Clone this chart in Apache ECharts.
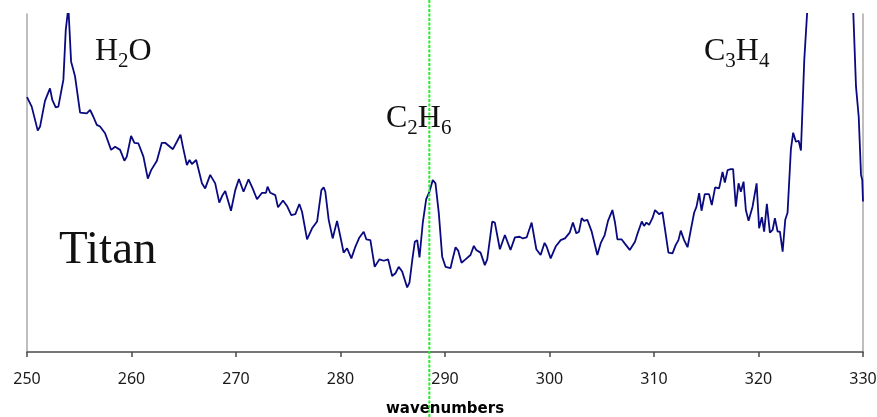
<!DOCTYPE html>
<html>
<head>
<meta charset="utf-8">
<script src="https://cdn.jsdelivr.net/npm/echarts@6/dist/echarts.min.js"></script>
<style>
  html, body { margin: 0; padding: 0; background: #fff; }
  #chart { width: 877px; height: 417px; }
</style>
</head>
<body>
<div id="chart"></div>
<script>
// Titan spectrum, 250–330 cm-1 (relative intensity, arbitrary units)
const wavenumbers = [
  250.00, 250.45, 251.03, 251.25, 251.72, 252.20, 252.42, 252.75, 253.00, 253.48,
  253.71, 253.96, 254.22, 254.44, 254.60, 255.08, 255.72, 256.04, 256.35, 256.68,
  256.99, 257.47, 258.05, 258.43, 258.91, 259.32, 259.55, 259.96, 260.28, 260.66,
  261.14, 261.56, 261.88, 262.43, 262.90, 263.22, 263.96, 264.34, 264.69, 264.92,
  265.30, 265.55, 265.78, 266.19, 266.74, 267.05, 267.53, 268.01, 268.40, 268.71,
  268.97, 269.52, 269.93, 270.28, 270.72, 271.20, 271.59, 272.01, 272.49, 272.87,
  273.02, 273.28, 273.76, 274.02, 274.50, 274.88, 275.29, 275.68, 276.06, 276.32,
  276.80, 277.28, 277.76, 278.17, 278.39, 278.55, 278.87, 279.25, 279.67, 279.99,
  280.30, 280.63, 281.04, 281.43, 281.81, 282.22, 282.48, 282.86, 283.27, 283.72,
  284.14, 284.56, 284.94, 285.26, 285.57, 285.90, 286.38, 286.60, 286.86, 287.11,
  287.34, 287.56, 287.87, 288.20, 288.51, 288.83, 289.09, 289.41, 289.73, 290.05,
  290.53, 290.69, 291.01, 291.26, 291.58, 291.96, 292.44, 292.76, 292.99, 293.40,
  293.81, 294.04, 294.52, 294.77, 295.25, 295.73, 296.27, 296.69, 297.14, 297.45,
  297.81, 298.29, 298.74, 299.15, 299.53, 299.72, 300.11, 300.59, 301.07, 301.48,
  301.93, 302.24, 302.57, 302.82, 303.08, 303.30, 303.62, 304.04, 304.58, 304.90,
  305.28, 305.60, 306.02, 306.27, 306.50, 306.91, 307.23, 307.68, 308.18, 308.41,
  308.83, 309.05, 309.28, 309.53, 309.85, 310.10, 310.48, 310.81, 311.06, 311.38,
  311.77, 312.08, 312.34, 312.56, 312.88, 313.21, 313.52, 313.84, 314.07, 314.32,
  314.55, 314.86, 315.27, 315.53, 315.85, 316.23, 316.56, 316.78, 317.04, 317.35,
  317.57, 317.83, 318.09, 318.31, 318.57, 318.79, 319.05, 319.43, 319.82, 320.06,
  320.32, 320.54, 320.80, 321.09, 321.35, 321.57, 321.83, 322.05, 322.31, 322.56,
  322.78, 323.10, 323.32, 323.58, 323.84, 324.06, 324.38, 325.00, 326.50, 327.80,
  328.60, 329.07, 329.33, 329.59, 329.81, 329.93, 330.00
];

const intensity = [
  75.4, 72.6, 65.5, 66.7, 74.3, 78.0, 74.6, 72.4, 72.6, 80.5,
  95.3, 102.0, 85.9, 83.4, 81.5, 70.8, 70.6, 71.6, 69.6, 67.2,
  66.7, 64.7, 59.8, 60.7, 59.8, 56.6, 57.8, 63.9, 61.9, 61.7,
  57.8, 51.3, 53.8, 56.6, 61.9, 61.9, 60.0, 62.2, 64.3, 60.7,
  55.3, 56.8, 55.6, 56.8, 49.9, 48.4, 52.4, 49.9, 44.2, 46.4,
  47.6, 41.8, 47.9, 51.2, 47.4, 51.1, 48.4, 45.2, 47.1, 47.1,
  48.9, 47.1, 46.4, 42.8, 44.8, 43.2, 40.5, 40.8, 43.8, 41.5,
  33.3, 36.6, 38.6, 47.9, 48.7, 47.4, 39.1, 33.6, 38.8, 34.1,
  29.4, 30.7, 27.7, 31.2, 33.9, 35.6, 33.3, 33.1, 25.2, 27.4,
  27.0, 27.4, 22.5, 23.3, 25.2, 23.8, 19.1, 20.5, 27.0, 32.6,
  33.1, 28.0, 38.1, 45.2, 47.4, 50.9, 49.9, 41.0, 28.2, 25.2,
  24.8, 27.0, 31.0, 30.0, 26.4, 27.4, 28.7, 31.4, 30.2, 29.4,
  25.7, 27.4, 38.6, 38.3, 30.4, 34.6, 30.2, 33.9, 34.1, 33.6,
  33.9, 38.3, 30.4, 28.7, 32.3, 31.2, 27.7, 31.2, 33.1, 33.6,
  35.3, 38.3, 35.1, 35.6, 39.6, 38.8, 39.1, 35.6, 28.7, 32.2,
  34.6, 38.8, 42.0, 38.3, 33.3, 33.3, 32.0, 30.2, 32.6, 34.9,
  38.6, 37.3, 38.3, 37.6, 39.6, 42.0, 40.8, 41.3, 36.1, 29.4,
  29.2, 31.7, 33.1, 35.9, 33.1, 31.0, 36.1, 41.2, 43.0, 47.0,
  41.8, 46.7, 46.7, 43.5, 48.7, 48.4, 53.3, 50.1, 53.8, 54.1,
  54.1, 43.0, 49.9, 47.4, 50.4, 42.0, 38.8, 43.0, 49.9, 36.6,
  39.9, 35.6, 43.8, 35.3, 36.1, 39.6, 35.6, 35.6, 29.7, 39.1,
  41.2, 60.0, 64.9, 62.2, 62.5, 59.6, 86.4, 118.0, 150.0, 145.0,
  125.0, 100.5, 78.5, 69.6, 52.4, 50.9, 44.5
];

// x-axis ticks
const xTicks = [250, 260, 270, 280, 290, 300, 310, 320, 330];

// C2H6 band position marked by the dotted guide
const c2h6Position = 288.5;

const chart = echarts.init(document.getElementById('chart'), null, { renderer: 'canvas' });

const seriesData = wavenumbers.map((w, i) => [w, intensity[i]]);

const yAxisBase = {
  type: 'value',
  min: 0,
  max: 100,
  axisLabel: { show: false },
  axisTick: { show: false },
  splitLine: { show: false },
  axisLine: { show: true, lineStyle: { color: '#a8a8a8', width: 1.5 } }
};

chart.setOption({
  animation: false,
  backgroundColor: '#ffffff',
  grid: {
    left: 27, right: 14, top: 14, bottom: 65,
    containLabel: false,
    outerBoundsMode: 'none'
  },
  xAxis: {
    type: 'value',
    min: xTicks[0],
    max: xTicks[xTicks.length - 1],
    interval: 10,
    name: 'wavenumbers',
    nameLocation: 'middle',
    nameGap: 50,
    nameTextStyle: {
      fontFamily: 'DejaVu Sans',
      fontWeight: 'bold',
      fontSize: 15,
      color: '#000'
    },
    axisLine: { show: true, onZero: false, lineStyle: { color: '#4a4a4a', width: 1.5 } },
    axisTick: { show: true, inside: false, length: 5, lineStyle: { color: '#4a4a4a', width: 1.5 } },
    axisLabel: {
      margin: 19,
      fontFamily: 'Noto Sans',
      fontSize: 16,
      color: '#1a1a1a'
    },
    splitLine: { show: false }
  },
  yAxis: [
    Object.assign({}, yAxisBase, { position: 'left' }),
    Object.assign({}, yAxisBase, { position: 'right' })
  ],
  series: [{
    type: 'line',
    data: seriesData,
    showSymbol: false,
    symbol: 'none',
    clip: true,
    lineStyle: { color: '#0a0a80', width: 1.8 },
    z: 3
  }]
});

// Molecule labels with subscripts
const mainFont = { fontFamily: 'Liberation Serif', fontSize: 32, lineHeight: 40, fill: '#111' };
const subFont = { fontFamily: 'Liberation Serif', fontSize: 21, lineHeight: 21, verticalAlign: 'bottom', fill: '#111' };

function formula(id, text, x, y) {
  return {
    type: 'text',
    id: id,
    x: x,
    y: y,
    z: 50,
    style: {
      text: text,
      align: 'left',
      verticalAlign: 'top',
      rich: { m: mainFont, s: subFont }
    }
  };
}

const guideX = chart.convertToPixel({ xAxisIndex: 0 }, c2h6Position);

chart.setOption({
  graphic: [
    formula('h2o', '{m|H}{s|2}{m|O}', 95, 32),
    formula('c2h6', '{m|C}{s|2}{m|H}{s|6}', 386, 99),
    formula('c3h4', '{m|C}{s|3}{m|H}{s|4}', 704, 32),
    {
      type: 'text',
      id: 'titan',
      x: 59,
      y: 227,
      z: 50,
      style: {
        text: 'Titan',
        fontFamily: 'Liberation Serif',
        fontSize: 47,
        fill: '#111',
        align: 'left',
        verticalAlign: 'top'
      }
    },
    {
      type: 'line',
      id: 'guide',
      z: 100,
      shape: { x1: guideX, y1: 0, x2: guideX, y2: 417 },
      style: { stroke: '#22ee22', lineWidth: 2, lineDash: [3, 1.5] }
    }
  ]
});
</script>
</body>
</html>
